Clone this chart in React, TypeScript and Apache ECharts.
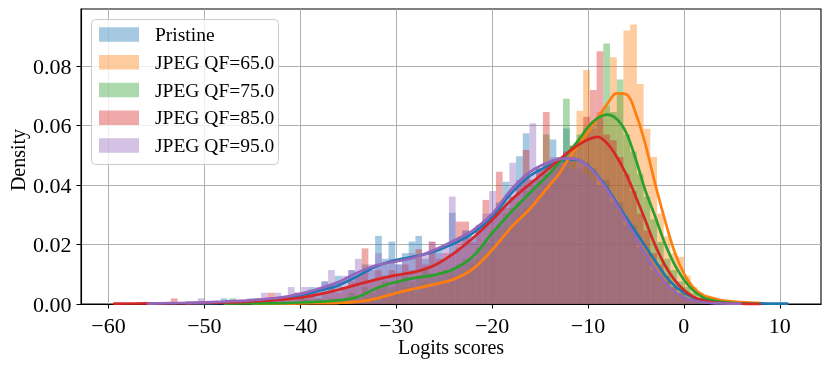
import React, { useEffect, useRef } from 'react';
import * as echarts from 'echarts';

const seriesNames = ['Pristine', 'JPEG QF=65.0', 'JPEG QF=75.0', 'JPEG QF=85.0', 'JPEG QF=95.0'];
const lineColors = ['#1f77b4', '#ff7f0e', '#2ca02c', '#d62728', '#9467bd'];
const fillColors = [
  'rgba(31,119,180,0.4)',
  'rgba(255,127,14,0.4)',
  'rgba(44,160,44,0.4)',
  'rgba(214,39,40,0.4)',
  'rgba(148,103,189,0.4)',
];

const xTicks = [-60, -50, -40, -30, -20, -10, 0, 10];
const yTicks = [0, 0.02, 0.04, 0.06, 0.08];

// histogram bins: left edge of first bin and bin width (data units)
const binStart = -44.8;
const binWidth = 0.7;

const histPristine = [
  0, 0.0019, 0, 0.0019, 0.0019, 0, 0.0038, 0.0019, 0.0057, 0.0038,
  0.0076, 0.0057, 0.0095, 0.0057, 0.0114, 0.0095, 0.0133, 0.0114, 0.0229, 0.0152,
  0.021, 0.0133, 0.0171, 0.021, 0.0229, 0.0152, 0.0171, 0.019, 0.0152, 0.0307,
  0.019, 0.0247, 0.0228, 0.0266, 0.0285, 0.0304, 0.0342, 0.0411, 0.0361, 0.0497,
  0.0574, 0.0418, 0.0456, 0.0437, 0.0553, 0.0475, 0.059, 0.0494, 0.0456, 0.0475,
  0.0456, 0.0399, 0.0418, 0.0342, 0.0342, 0.0266, 0.0266, 0.019, 0.0171, 0.0114,
  0.0095, 0.0076, 0.0057, 0.0038, 0.0038, 0.0019, 0.0019, 0, 0.0019, 0,
];
const histQF65 = [
  0, 0, 0, 0, 0, 0, 0, 0, 0, 0,
  0, 0, 0, 0, 0.0019, 0, 0.0019, 0.0019, 0, 0.0038,
  0.0038, 0.0038, 0.0057, 0.0057, 0.0038, 0.0076, 0.0057, 0.0076, 0.0076, 0.0095,
  0.0095, 0.0114, 0.0133, 0.0152, 0.0171, 0.019, 0.0209, 0.0247, 0.0266, 0.0304,
  0.0323, 0.0342, 0.038, 0.0399, 0.0418, 0.0456, 0.0494, 0.0532, 0.065, 0.0787,
  0.0589, 0.0646, 0.0665, 0.083, 0.0703, 0.092, 0.094, 0.074, 0.0589, 0.0495,
  0.0304, 0.0228, 0.0171, 0.0159, 0.0095, 0.0057, 0.0038, 0.0019, 0.0019, 0,
];
const histQF75 = [
  0, 0, 0.0019, 0, 0, 0.0019, 0, 0.0019, 0, 0.0019,
  0, 0.0019, 0.0019, 0.0019, 0.0038, 0.0019, 0.0057, 0.0038, 0.0057, 0.0076,
  0.0057, 0.0076, 0.0095, 0.0076, 0.0095, 0.0114, 0.0095, 0.0095, 0.0114, 0.0114,
  0.0133, 0.0152, 0.0152, 0.019, 0.0209, 0.0247, 0.0266, 0.0304, 0.0323, 0.0342,
  0.038, 0.0399, 0.0418, 0.057, 0.0475, 0.0494, 0.069, 0.0532, 0.057, 0.0589,
  0.0608, 0.0627, 0.0876, 0.0646, 0.0755, 0.057, 0.0513, 0.0437, 0.0361, 0.0285,
  0.0209, 0.0152, 0.0114, 0.0076, 0.0057, 0.0038, 0.0019, 0.0019, 0, 0,
];
const histQF85 = [
  0.0019, 0, 0.0038, 0.0019, 0.0019, 0.0019, 0.0038, 0.0019, 0.0038, 0.0019,
  0.0038, 0.0057, 0.0038, 0.0057, 0.0076, 0.0095, 0.0187, 0.0076, 0.0114, 0.0095,
  0.0114, 0.0095, 0.0133, 0.0114, 0.0184, 0.0133, 0.021, 0.0152, 0.0171, 0.0171,
  0.0277, 0.0277, 0.0209, 0.0247, 0.035, 0.0285, 0.0445, 0.0323, 0.0361, 0.0399,
  0.0518, 0.0418, 0.0456, 0.0646, 0.0475, 0.0494, 0.0513, 0.0532, 0.0551, 0.063,
  0.072, 0.085, 0.057, 0.0551, 0.0494, 0.0437, 0.038, 0.0304, 0.0247, 0.0171,
  0.0133, 0.0095, 0.0057, 0.0038, 0.0019, 0.0019, 0, 0.0019, 0, 0,
];
const histQF95 = [
  0.0019, 0.0038, 0.0019, 0.0038, 0.0019, 0.0057, 0.0038, 0.0057, 0.0038, 0.0057,
  0.0076, 0.0114, 0.0076, 0.0095, 0.0114, 0.0152, 0.0114, 0.0133, 0.0171, 0.0133,
  0.0152, 0.0133, 0.0152, 0.0171, 0.0152, 0.0171, 0.0209, 0.0171, 0.019, 0.0361,
  0.0209, 0.0247, 0.0228, 0.0266, 0.0304, 0.038, 0.0323, 0.0342, 0.0475, 0.0418,
  0.0437, 0.0608, 0.0456, 0.0475, 0.0494, 0.0475, 0.0513, 0.0456, 0.0475, 0.0437,
  0.0418, 0.0399, 0.038, 0.0342, 0.0304, 0.0266, 0.0228, 0.019, 0.0152, 0.0114,
  0.0076, 0.0057, 0.0038, 0.0019, 0.0019, 0.0019, 0, 0, 0, 0,
];

// isolated outlier bins: [left edge, density]
const tailPristine = [[-48.3, 0.0019]];
const tailQF65: number[][] = [];
const tailQF75 = [[-47.4, 0.0019]];
const tailQF85 = [[-53.5, 0.0019]];
const tailQF95 = [[-50.7, 0.0019], [-45.6, 0.0019]];

// KDE curves
const kdeX = [-59.5, -56, -52, -48, -45, -42, -40, -38, -36, -34, -32, -30, -28, -26, -24, -22, -20, -18, -16, -14, -13, -12, -11, -10, -9, -8, -7, -6, -5, -4, -3, -2, -1, 0, 1, 2, 3, 4, 6, 8, 10, 10.9];
const kdePristine = [null, null, 0.0002, 0.0004, 0.0008, 0.0016, 0.0029, 0.0045, 0.0063, 0.0094, 0.0128, 0.0148, 0.016, 0.0177, 0.0203, 0.0238, 0.0294, 0.0372, 0.0432, 0.0467, 0.0478, 0.0486, 0.0484, 0.0465, 0.0432, 0.039, 0.034, 0.029, 0.0242, 0.0193, 0.0145, 0.0098, 0.0062, 0.0038, 0.0022, 0.0013, 0.0008, 0.0005, 0.0003, 0.0002, 0.0001, 0.0001];
const kdeQF65 = [null, null, null, null, 0.0001, 0.0001, 0.0002, 0.0003, 0.0004, 0.0008, 0.0019, 0.0037, 0.0052, 0.0066, 0.0083, 0.0118, 0.0182, 0.0258, 0.0322, 0.04, 0.0438, 0.049, 0.0535, 0.058, 0.0625, 0.0672, 0.0708, 0.0705, 0.064, 0.0535, 0.0405, 0.0285, 0.0178, 0.0103, 0.0055, 0.003, 0.002, 0.0012, 0.0006, 0.0003, null, null];
const kdeQF75 = [null, null, null, 0.0001, 0.0002, 0.0003, 0.0005, 0.0008, 0.0012, 0.0024, 0.0054, 0.0074, 0.0088, 0.0098, 0.0118, 0.016, 0.0238, 0.031, 0.0375, 0.0439, 0.0475, 0.0512, 0.055, 0.0595, 0.0625, 0.0637, 0.0622, 0.0575, 0.0485, 0.038, 0.0295, 0.0205, 0.0135, 0.0082, 0.0045, 0.0022, 0.0012, 0.0006, 0.0002, 0.0001, null, null];
const kdeQF85 = [0.0001, 0.0002, 0.0003, 0.0005, 0.0009, 0.0015, 0.0021, 0.0033, 0.0048, 0.0066, 0.0083, 0.0097, 0.0108, 0.013, 0.017, 0.0222, 0.0282, 0.035, 0.0405, 0.0458, 0.0485, 0.0512, 0.0535, 0.0553, 0.0562, 0.054, 0.0495, 0.0435, 0.036, 0.028, 0.0198, 0.0132, 0.0082, 0.0047, 0.0024, 0.0012, 0.0006, 0.0003, 0.0001, 0.0, null, null];
const kdeQF95 = [null, 0.0001, 0.0004, 0.0008, 0.0013, 0.0022, 0.0034, 0.0052, 0.0074, 0.0106, 0.0131, 0.0143, 0.0157, 0.0182, 0.0213, 0.0248, 0.0303, 0.0385, 0.0445, 0.0478, 0.0487, 0.049, 0.0485, 0.0462, 0.0428, 0.0383, 0.0333, 0.0278, 0.0222, 0.0165, 0.0115, 0.0073, 0.0042, 0.0022, 0.0011, 0.0006, 0.0003, 0.0002, 0.0001, null, null, null];

const hists = [histPristine, histQF65, histQF75, histQF85, histQF95];
const tails = [tailPristine, tailQF65, tailQF75, tailQF85, tailQF95];
const kdes = [kdePristine, kdeQF65, kdeQF75, kdeQF85, kdeQF95];

const FONT = "'Liberation Serif', 'Times New Roman', serif";

function histData(heights: number[], extra: number[][]) {
  const d: number[][] = heights.map((h, k) => [binStart + k * binWidth, binStart + (k + 1) * binWidth, h]);
  extra.forEach(([x, h]) => d.push([x, x + binWidth, h]));
  return d.filter((v) => v[2] > 0);
}

function fmtX(v: number) {
  return v < 0 ? '\u2212' + Math.abs(v) : String(v);
}

export default function App() {
  const ref = useRef<HTMLDivElement>(null);
  useEffect(() => {
    if (!ref.current) return;
    const chart = echarts.init(ref.current, null, { renderer: 'svg' });
    const histSeries = hists.map((h, i) => ({
      type: 'custom',
      name: seriesNames[i],
      z: 2,
      clip: false,
      data: histData(h, tails[i]),
      encode: { x: [0, 1], y: 2 },
      renderItem: (params: any, api: any) => {
        const p0 = api.coord([api.value(0), api.value(2)]);
        const p1 = api.coord([api.value(1), 0]);
        return {
          type: 'rect',
          shape: { x: p0[0], y: p0[1], width: p1[0] - p0[0], height: p1[1] - p0[1] },
          style: { fill: fillColors[i], stroke: 'none' },
        };
      },
    }));
    const lineSeries = kdes.map((ys, i) => ({
      type: 'line',
      name: seriesNames[i] + ' kde',
      z: 3,
      smooth: 0.35,
      showSymbol: false,
      clip: false,
      lineStyle: { color: lineColors[i], width: 2.7 },
      itemStyle: { color: lineColors[i] },
      data: kdeX.map((x, j) => [x, ys[j]]).filter((p) => p[1] !== null),
    }));

    const legendItems: any[] = [
      {
        type: 'rect',
        shape: { x: 91.5, y: 19.5, width: 187, height: 145, r: 4 },
        style: { fill: 'rgba(255,255,255,0.8)', stroke: '#cccccc', lineWidth: 1 },
        z: 10,
      },
    ];
    seriesNames.forEach((n, i) => {
      const cy = 34.5 + 27.75 * i;
      legendItems.push({
        type: 'rect',
        shape: { x: 99, y: cy - 7.2, width: 40, height: 14.4 },
        style: { fill: fillColors[i] },
        z: 11,
      });
      legendItems.push({
        type: 'text',
        x: 155,
        y: cy,
        style: { text: n, font: `19.5px ${FONT}`, fill: '#000', textVerticalAlign: 'middle', textAlign: 'left' },
        z: 11,
      });
    });

    chart.setOption({
      animation: false,
      textStyle: { fontFamily: FONT },
      grid: {
        left: 81,
        right: 10,
        top: 9,
        bottom: 63,
        show: true,
        borderColor: '#000',
        borderWidth: 1.1,
        backgroundColor: 'transparent',
        outerBoundsMode: 'none',
        containLabel: false,
      },
      xAxis: {
        type: 'value',
        min: -62.87,
        max: 14.3,
        splitNumber: 8,
        axisLine: { show: true, onZero: false, lineStyle: { color: '#000', width: 1.1 } },
        axisTick: { show: true, length: 4.5, customValues: xTicks, lineStyle: { color: '#000', width: 1 } },
        axisLabel: {
          customValues: xTicks,
          formatter: (v: number) => fmtX(v),
          color: '#000',
          fontSize: 22,
          fontFamily: FONT,
          margin: 10,
        },
        splitLine: { show: true, lineStyle: { color: '#b0b0b0', width: 1 } },
      },
      yAxis: {
        type: 'value',
        min: 0,
        max: 0.0992,
        interval: 0.02,
        axisLine: { show: true, onZero: false, lineStyle: { color: '#000', width: 1.1 } },
        axisTick: { show: true, length: 4.5, customValues: yTicks, lineStyle: { color: '#000', width: 1 } },
        axisLabel: {
          customValues: yTicks,
          formatter: (v: number) => v.toFixed(2),
          color: '#000',
          fontSize: 22,
          fontFamily: FONT,
          margin: 9.5,
        },
        splitLine: { show: true, lineStyle: { color: '#b0b0b0', width: 1 } },
      },
      graphic: [
        {
          type: 'text',
          x: 451,
          y: 347,
          style: { text: 'Logits scores', font: `20px ${FONT}`, fill: '#000', textAlign: 'center', textVerticalAlign: 'middle' },
        },
        {
          type: 'text',
          x: 18,
          y: 160,
          rotation: Math.PI / 2,
          style: { text: 'Density', font: `20px ${FONT}`, fill: '#000', textAlign: 'center', textVerticalAlign: 'middle' },
        },
        ...legendItems,
      ],
      series: [...histSeries, ...lineSeries],
    });
    return () => chart.dispose();
  }, []);
  return <div ref={ref} style={{ position: 'fixed', left: 0, top: 0, width: 831, height: 367 }} />;
}
